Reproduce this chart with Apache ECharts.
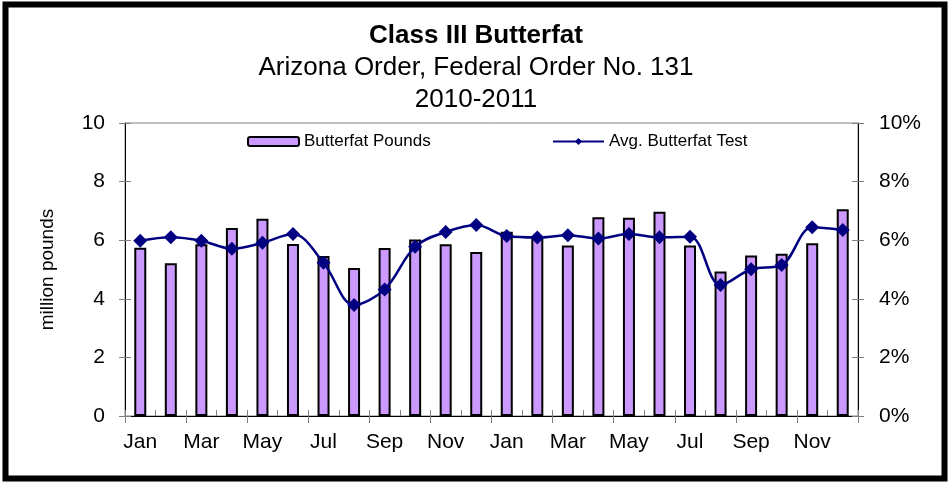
<!DOCTYPE html>
<html>
<head>
<meta charset="utf-8">
<script src="https://cdn.jsdelivr.net/npm/echarts@6/dist/echarts.min.js"></script>
<style>
  html, body { margin: 0; padding: 0; background: #fff; }
  #chart { width: 952px; height: 482px; }
</style>
</head>
<body>
<div id="chart"></div>
<script>
var months = ['Jan', 'Feb', 'Mar', 'Apr', 'May', 'Jun', 'Jul', 'Aug', 'Sep', 'Oct', 'Nov', 'Dec',
              'Jan', 'Feb', 'Mar', 'Apr', 'May', 'Jun', 'Jul', 'Aug', 'Sep', 'Oct', 'Nov', 'Dec'];

// million pounds
var butterfatPounds = [5.74, 5.21, 5.86, 6.42, 6.73, 5.87, 5.46, 5.05, 5.73, 6.02, 5.86, 5.60,
                       6.29, 6.08, 5.82, 6.78, 6.77, 6.97, 5.82, 4.93, 5.48, 5.54, 5.90, 7.06];

// percent
var avgButterfatTest = [5.98, 6.10, 5.98, 5.71, 5.91, 6.21, 5.23, 3.79, 4.32, 5.78, 6.28, 6.52,
                        6.14, 6.09, 6.17, 6.06, 6.21, 6.10, 6.12, 4.47, 5.01, 5.15, 6.44, 6.35];

var leftTicks = [0, 2, 4, 6, 8, 10];
var rightTicks = [0, 2, 4, 6, 8, 10];

var font = 'Liberation Sans, Arial, sans-serif';

var chart = echarts.init(document.getElementById('chart'));

var option = {
    backgroundColor: '#fff',
    animation: false,
    textStyle: { fontFamily: font, color: '#000' },
    title: [
        { text: 'Class III Butterfat', left: 'center', top: 23, padding: 0,
          textStyle: { fontFamily: font, fontSize: 26, fontWeight: 'bold', color: '#000' } },
        { text: 'Arizona Order, Federal Order No. 131', left: 'center', top: 55, padding: 0,
          textStyle: { fontFamily: font, fontSize: 26, fontWeight: 'normal', color: '#000' } },
        { text: '2010-2011', left: 'center', top: 87, padding: 0,
          textStyle: { fontFamily: font, fontSize: 26, fontWeight: 'normal', color: '#000' } }
    ],
    legend: [
        { data: ['Butterfat Pounds'], left: 247, top: 133, padding: 0, itemWidth: 51, itemHeight: 9, itemGap: 5,
          textStyle: { fontFamily: font, fontSize: 17, color: '#000' } },
        { data: ['Avg. Butterfat Test'], left: 552, top: 133, padding: 0, itemWidth: 51, itemHeight: 9, itemGap: 5,
          textStyle: { fontFamily: font, fontSize: 17, color: '#000' } }
    ],
    grid: {
        left: 125, right: 94, top: 123, bottom: 66,
        show: true, borderColor: '#808080', borderWidth: 1
    },
    xAxis: [
        {
            type: 'category', data: months,
            axisLine: { lineStyle: { color: '#000', width: 1 } },
            axisTick: { show: true, length: 7, lineStyle: { color: '#808080' } },
            axisLabel: { interval: 1, fontSize: 21, color: '#000', margin: 16, fontFamily: font }
        },
        {
            type: 'category', data: months, position: 'bottom',
            axisLine: { show: false },
            axisTick: { show: true, inside: true, length: 6, lineStyle: { color: '#808080' } },
            axisLabel: { show: false }
        }
    ],
    yAxis: [
        {
            type: 'value', min: 0, max: 10, interval: 2, position: 'left',
            name: 'million pounds', nameLocation: 'middle', nameRotate: 90, nameGap: 68,
            nameTextStyle: { fontSize: 19, color: '#000', fontFamily: font },
            axisLine: { show: true, lineStyle: { color: '#000' } },
            axisTick: { show: true, length: 6, lineStyle: { color: '#808080' } },
            axisLabel: { fontSize: 21, color: '#000', margin: 20, fontFamily: font,
                         formatter: function (v) { return leftTicks.indexOf(v) >= 0 ? String(v) : ''; } },
            splitLine: { show: false }
        },
        {
            type: 'value', min: 0, max: 10, interval: 2, position: 'right',
            axisLine: { show: true, lineStyle: { color: '#000' } },
            axisTick: { show: true, length: 6, lineStyle: { color: '#808080' } },
            axisLabel: { fontSize: 21, color: '#000', margin: 21, fontFamily: font,
                         formatter: function (v) { return rightTicks.indexOf(v) >= 0 ? v + '%' : ''; } },
            splitLine: { show: false }
        },
        {
            type: 'value', min: 0, max: 10, interval: 2, position: 'left',
            axisLine: { show: false },
            axisTick: { show: true, inside: true, length: 6, lineStyle: { color: '#808080' } },
            axisLabel: { show: false }, splitLine: { show: false }
        },
        {
            type: 'value', min: 0, max: 10, interval: 2, position: 'right',
            axisLine: { show: false },
            axisTick: { show: true, inside: true, length: 6, lineStyle: { color: '#808080' } },
            axisLabel: { show: false }, splitLine: { show: false }
        }
    ],
    series: [
        {
            name: 'Butterfat Pounds', type: 'bar', data: butterfatPounds,
            xAxisIndex: 0, yAxisIndex: 0, barWidth: 12,
            itemStyle: { color: '#CC99FF', borderColor: '#000', borderWidth: 2 }
        },
        {
            name: 'Avg. Butterfat Test', type: 'line', data: avgButterfatTest,
            xAxisIndex: 0, yAxisIndex: 1, smooth: 0.35,
            symbol: 'diamond', symbolSize: 14,
            lineStyle: { color: '#000080', width: 2.5 },
            itemStyle: { color: '#000080' }
        }
    ],
    graphic: [
        { type: 'rect', shape: { x: 5.5, y: 4.5, width: 939, height: 474 },
          style: { fill: 'none', stroke: '#000', lineWidth: 6 }, z: 100 }
    ]
};

chart.setOption(option);
</script>
</body>
</html>
